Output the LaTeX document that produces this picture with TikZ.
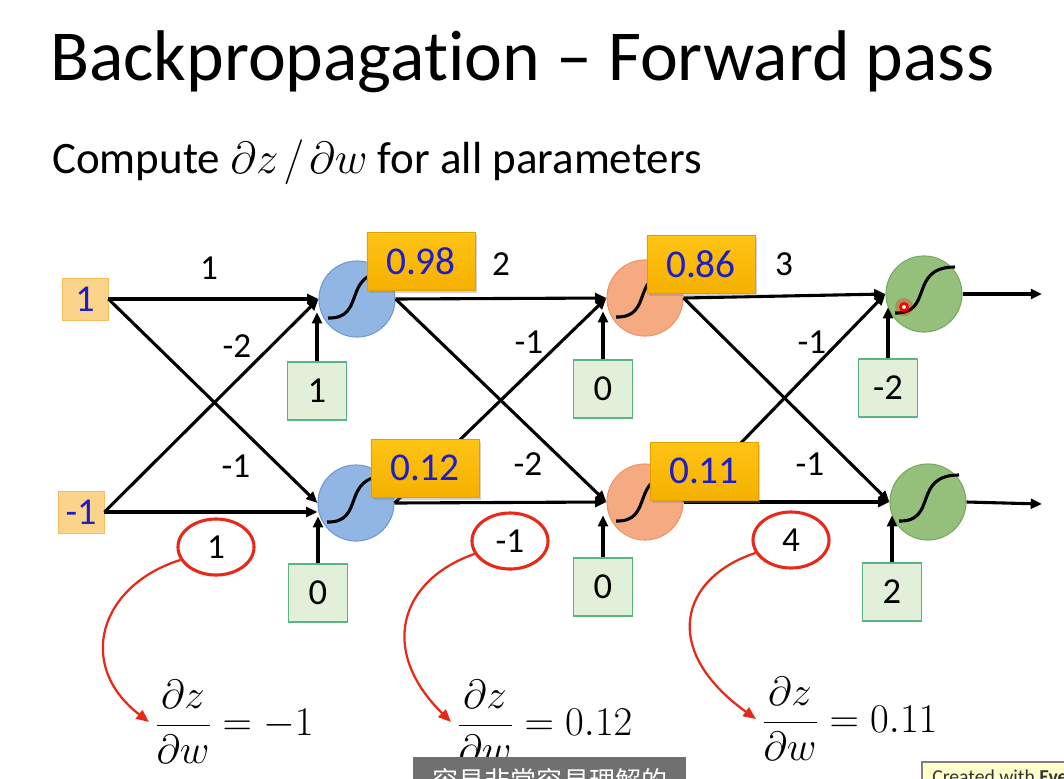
\RequirePackage{fix-cm}
\documentclass[tikz,border=0pt]{standalone}
\usepackage{amsmath}
\usepackage{fontspec}
\setmainfont{Carlito}[Ligatures=CommonOff]
\newfontfamily\cjk{Noto Sans CJK SC}
\usetikzlibrary{arrows.meta,shapes.geometric,shadows}
\definecolor{numblue}{RGB}{30,30,200}
\definecolor{goldT}{RGB}{255,196,20}
\definecolor{goldB}{RGB}{245,176,0}
\definecolor{goldD}{RGB}{222,160,0}
\definecolor{inFill}{RGB}{251,212,140}
\definecolor{inDraw}{RGB}{246,190,90}
\definecolor{biasFill}{RGB}{226,240,218}
\definecolor{biasDraw}{RGB}{90,180,130}
\definecolor{nBlue}{RGB}{146,182,228}
\definecolor{nBlueD}{RGB}{112,155,212}
\definecolor{nOr}{RGB}{245,170,130}
\definecolor{nOrD}{RGB}{238,150,105}
\definecolor{nGr}{RGB}{148,192,124}
\definecolor{nGrD}{RGB}{120,170,98}
\definecolor{redc}{RGB}{232,40,24}
\tikzset{
  neuron/.style={circle, minimum size=1.9cm, inner sep=0pt, line width=0.8pt},
  blueN/.style={neuron, fill=nBlue, draw=nBlueD},
  orN/.style={neuron, fill=nOr, draw=nOrD},
  grN/.style={neuron, fill=nGr, draw=nGrD},
  goldbox/.style={rectangle, minimum width=2.7cm, minimum height=1.45cm, draw=goldD, line width=0.6pt,
    top color=goldT, bottom color=goldB, drop shadow={shadow xshift=1.5pt, shadow yshift=-2pt, opacity=0.35},
    text=numblue, font=\fontsize{28}{32}\selectfont},
  inbox/.style={rectangle, minimum width=1.15cm, minimum height=1.05cm, fill=inFill, draw=inDraw,
    line width=0.6pt, text=numblue, font=\fontsize{27}{30}\selectfont, inner sep=0pt},
  biasbox/.style={rectangle, minimum width=1.475cm, minimum height=1.45cm, fill=biasFill, draw=biasDraw,
    line width=0.8pt, font=\fontsize{26}{30}\selectfont},
  wlab/.style={font=\fontsize{25}{30}\selectfont, inner sep=0pt},
  redell/.style={ellipse, draw=redc, line width=2.2pt, minimum width=1.9cm, minimum height=1.4cm,
    inner sep=0pt, font=\fontsize{25}{30}\selectfont},
  arr/.style={line width=2.2pt, -{Triangle[length=8pt,width=7pt]}},
  redarr/.style={draw=redc, line width=1.6pt, -{Triangle[length=9pt,width=7.5pt]}},
  formula/.style={anchor=west, inner sep=4pt, font=\fontsize{29}{34}\selectfont},
  sigm/.pic={\draw[line width=2.2pt] (-29,19) .. controls (10,20) and (-16,-27) .. (31,-27);}
}
\begin{document}
\begin{tikzpicture}[x=0.025cm,y=-0.025cm]
\useasboundingbox (0,0) rectangle (1064,778);
\begin{scope}
\clip (0,0) rectangle (1064,778);
\fill[white] (0,0) rectangle (1064,778);

% title
\node[anchor=base west, inner sep=0pt, font=\fontsize{51}{58}\selectfont] (title) at (50,80) {Backpropagation – Forward pass};
\node[anchor=base west, inner sep=0pt, font=\fontsize{32}{40}\selectfont] (sub) at (52,173) {Compute $\partial z\mkern2mu/\mkern2mu\partial w$ for all parameters};

% inputs
\node[inbox] (x1) at (85,299) {1};
\node[inbox] (x2) at (81,512) {-1};

% neurons
\node[blueN] (B1) at (357,299) {};
\node[blueN] (B2) at (356,503) {};
\node[orN] (O1) at (645,298) {};
\node[orN] (O2) at (645,502) {};
\node[grN] (G1) at (924,294) {};
\node[grN] (G2) at (928,502) {};

% biases
\node[biasbox] (b1) at (317,391) {1};
\node[biasbox] (b2) at (318,593) {0};
\node[biasbox] (b3) at (603,389) {0};
\node[biasbox] (b4) at (603,587) {0};
\node[biasbox] (b5) at (888,388) {-2};
\node[biasbox] (b6) at (892,592) {2};

\coordinate (out1) at (1042,294);
\coordinate (out2) at (1042,504);

% connectors layer 1
\draw[arr] (x1.east) -- (B1.west);
\draw[arr] (x1.east) -- (B2.west);
\draw[arr] (x2.east) -- (B1.west);
\draw[arr] (x2.east) -- (x2.east -| B2.west);
% layer 2
\draw[arr] (B1.east) -- (O1.west);
\draw[arr] (B1.east) -- (O2.west);
\draw[arr] (B2.east) -- (O1.west);
\draw[arr] (B2.east) -- (O2.west);
% layer 3
\draw[arr] (O1.east) -- (G1.west);
\draw[arr] (O1.east) -- (G2.west);
\draw[arr] (O2.east) -- (G1.west);
\draw[arr] (O2.east) -- (G2.west);
% outputs
\draw[arr] (G1.east) -- (out1);
\draw[arr] (G2.east) -- (out2);
% biases
\draw[arr] (b1.north) -- (b1.north |- B1.200);
\draw[arr] (b2.north) -- (b2.north |- B2.200);
\draw[arr] (b3.north) -- (b3.north |- O1.200);
\draw[arr] (b4.north) -- (b4.north |- O2.200);
\draw[arr] (b5.north) -- (b5.north |- G1.200);
\draw[arr] (b6.north) -- (b6.north |- G2.200);

% sigmoids
\pic at (B1) {sigm};
\pic at (B2) {sigm};
\pic at (O1) {sigm};
\pic at (O2) {sigm};
\pic at (G1) {sigm};
\pic at (G2) {sigm};

% weights
\node[wlab] (w1) at (209,268) {1};
\node[wlab] (w2) at (237,346) {-2};
\node[wlab] (w3) at (236,466) {-1};
\node[wlab] (w4) at (501,264) {2};
\node[wlab] (w5) at (529,342) {-1};
\node[wlab] (w6) at (528,464) {-2};
\node[wlab] (w7) at (784,264) {3};
\node[wlab] (w8) at (812,342) {-1};
\node[wlab] (w9) at (810,464) {-1};

% activations
\node[goldbox] (g1) at (421,261) {0.98};
\node[goldbox] (g2) at (425,468) {0.12};
\node[goldbox] (g3) at (701,264) {0.86};
\node[goldbox] (g4) at (704,471) {0.11};

% red circles
\node[redell] (r1) at (216,547) {1};
\node[redell] (r2) at (510,541) {-1};
\node[redell] (r3) at (791,540) {4};

% formulas
\node[formula] (f1) at (149,722) {$\dfrac{\partial z}{\partial w} = -1$};
\node[formula] (f2) at (451,722) {$\dfrac{\partial z}{\partial w} = 0.12$};
\node[formula] (f3) at (756,719) {$\dfrac{\partial z}{\partial w} = 0.11$};

\draw[redarr] (r1.200) .. controls (100,585) and (75,665) .. (f1.west);
\draw[redarr] (r2.200) .. controls (400,580) and (378,650) .. (f2.west);
\draw[redarr] (r3.200) .. controls (680,578) and (660,650) .. (f3.west);

% laser pointer dot
\fill[red, opacity=0.25] (904,307) circle (9);
\fill[red] (904,307) circle (5);
\fill[white] (904,307) circle (2);

% video overlays
\fill[fill={rgb,255:red,112;green,112;blue,112}] (413,757) rectangle (686,790);
\node[text=white, font=\cjk\fontsize{18.5}{22}\selectfont, inner sep=0pt] (cap) at (550,781) {容易非常容易理解的};
\filldraw[fill={rgb,255:red,255;green,255;blue,204}, draw=gray, line width=0.8pt] (922,762) rectangle (1070,790);
\node[anchor=west, inner sep=0pt, font=\fontsize{14}{17}\selectfont, text=black!80] (wm) at (932,777) {Created with \textbf{Ever}};
\end{scope}
\end{tikzpicture}
\end{document}
